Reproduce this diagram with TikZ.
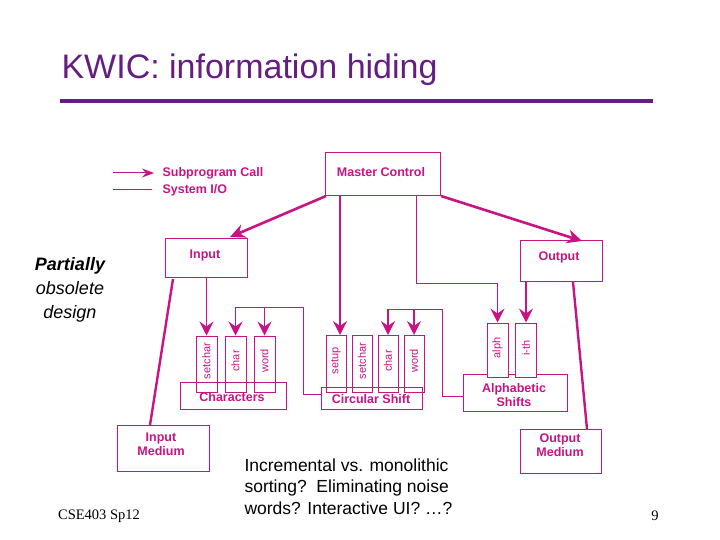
\documentclass[tikz,border=0pt]{standalone}
\usepackage{fontspec}
\setmainfont{Liberation Sans}
\newfontfamily\seriffont{Liberation Serif}
\usetikzlibrary{arrows.meta}
\definecolor{mg}{RGB}{200,20,130}
\definecolor{ttl}{RGB}{100,30,130}
\begin{document}
\begin{tikzpicture}[x=1pt,y=-1pt,
  box/.style={draw=mg,line width=1pt,fill=white},
  lbl/.style={text=mg,font=\bfseries\fontsize{12.5}{14}\selectfont,align=center},
  slot/.style={draw=mg,line width=1pt,fill=white},
  sl/.style={text=mg,font=\fontsize{11}{12}\selectfont,rotate=90},
  call/.style={draw=mg,line width=1.3pt,-{Stealth[length=14pt,width=14pt,inset=5pt]}},
  thick call/.style={draw=mg,line width=2.6pt,-{Stealth[length=15pt,width=14pt,inset=5pt]}},
  io/.style={draw=mg,line width=2.4pt},
  wire/.style={draw=mg,line width=1pt}]
\useasboundingbox (0,0) rectangle (720,540);
\node[anchor=west,text=ttl,font=\fontsize{34}{38}\selectfont] (title) at (58,70) {KWIC: information hiding};
\draw[ttl,line width=3.5pt] (60,101) -- (653,101);
% legend
\coordinate (l1a) at (113,173); \coordinate (l1b) at (154,173);
\draw[draw=mg,line width=1pt,-{Stealth[length=12pt,width=9pt,inset=4pt]}] (l1a) -- (l1b);
\node[lbl,anchor=west] (lg1) at (159,173) {Subprogram Call};
\coordinate (l2a) at (113,190); \coordinate (l2b) at (152,190);
\draw[wire] (l2a) -- (l2b);
\node[lbl,anchor=west] (lg2) at (159,190) {System I/O};
% main boxes
\node[box,minimum width=115,minimum height=43] (mc) at (382.5,174.5) {};
\node[lbl] (mct) at (381,172) {Master Control};
\node[box,minimum width=82,minimum height=39] (in) at (206,257.5) {};
\node[lbl] at (205,255) {Input};
\node[box,minimum width=82,minimum height=41] (out) at (561,260.5) {};
\node[lbl] at (559,257) {Output};
\node[box,minimum width=92,minimum height=46] (im) at (163,448) {};
\node[lbl] at (161,444) {Input\\Medium};
\node[box,minimum width=81,minimum height=44] (om) at (560.5,451) {};
\node[lbl] at (560,445) {Output\\Medium};
% calls from master
\draw[thick call] (326,196) -- (230,237);
\draw[thick call] (441,196) -- (582,241);
% io lines
\draw[io] (173,279) -- (150,425);
\draw[io] (573,282) -- (587,429);
% module boxes with slots
\node[box,minimum width=106,minimum height=27] (ch) at (233.5,396) {};
\foreach \x/\t [count=\i] in {206.5/setchar,235.5/char,264.5/word}{
  \node[slot,minimum width=21,minimum height=56] (c\i) at (\x,364) {};
  \node[sl] at (\x,361) {\t};}
\node[box,fill=none,minimum width=106,minimum height=27] at (233.5,396) {};
\node[lbl] at (232,397) {Characters};
\node[box,minimum width=101,minimum height=22] (cs) at (371.5,398) {};
\foreach \x/\t [count=\i] in {336/setup,362/setchar,388/char,414/word}{
  \node[slot,minimum width=20,minimum height=57] (s\i) at (\x,364) {};
  \node[sl] at (\x,361) {\t};}
\node[box,fill=none,minimum width=101,minimum height=22] at (371.5,398) {};
\node[lbl] at (371,399) {Circular Shift};
\node[box,minimum width=104,minimum height=37] (al) at (515,392.5) {};
\foreach \x/\t [count=\i] in {497.5/alph,526/i-th}{
  \node[slot,minimum width=21,minimum height=54] (a\i) at (\x,350) {};
  \node[sl] at (\x,348) {\t};}
\node[lbl] at (514,395) {Alphabetic\\Shifts};
% calls
\draw[call] (206.5,277) -- (c1.north);
\draw[wire] (235.5,307) -- (303,307) -- (303,394) -- (cs.west|-0,394);
\draw[call] (235.5,307) -- (c2.north);
\draw[call] (264.5,307) -- (c3.north);
\draw[call] (340,196) -- (340,335);
\draw[wire] (388,309) -- (442,309) -- (442,396) -- (al.west|-0,396);
\draw[call] (388,309) -- (s3.north);
\draw[call] (414,309) -- (s4.north);
\draw[wire] (416,196) -- (416,283) -- (497.5,283);
\draw[call] (497.5,283) -- (a1.north);
\draw[call] (526,281) -- (a2.north);
% side texts
\node[font=\bfseries\itshape\fontsize{18}{20}\selectfont] (p) at (70,266) {Partially};
\node[font=\itshape\fontsize{18}{24}\selectfont,align=center] (ob) at (70,302) {obsolete\\design};
\node[font=\seriffont\fontsize{14.5}{16}\selectfont] (cse) at (99,516) {CSE403 Sp12};
\node[font=\seriffont\fontsize{14.5}{16}\selectfont] (pg) at (655,516) {9};
\node[anchor=north west,align=left,font=\fontsize{17.5}{21.5}\selectfont] (q) at (241,455) {Incremental vs. monolithic\\sorting?\ \ Eliminating noise\\words? Interactive UI? …?};
\end{tikzpicture}
\end{document}
